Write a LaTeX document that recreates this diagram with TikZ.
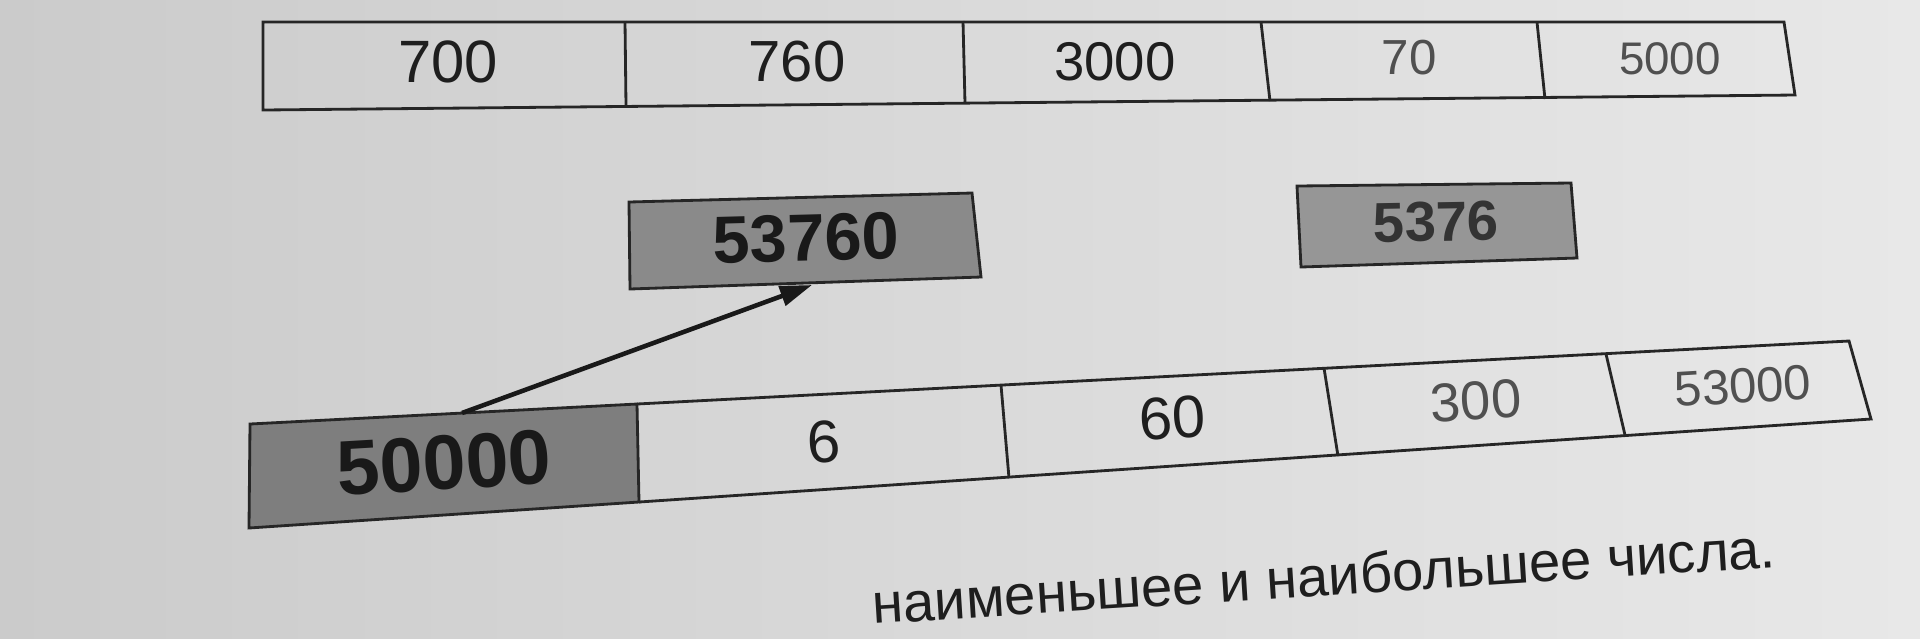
\documentclass[tikz,border=0pt]{standalone}
\usepackage{fontspec}
\setmainfont{Liberation Sans}
\usetikzlibrary{arrows.meta}
\definecolor{paperL}{HTML}{CBCBCB}
\definecolor{paperR}{HTML}{E8E8E8}
\definecolor{boxgray}{HTML}{8A8A8A}
\definecolor{celldark}{HTML}{7E7E7E}
\definecolor{inkdark}{HTML}{1E1E1E}
\definecolor{inklight}{HTML}{505050}
\begin{document}
\begin{tikzpicture}[x=0.01cm,y=-0.01cm,
  cellline/.style={line width=0.8pt,draw=black!85},
  num/.style={inner sep=0pt,text=inkdark,font=\fontsize{#1}{#1}\selectfont},
  boldnum/.style={inner sep=0pt,text=black!90,font=\fontsize{#1}{#1}\selectfont\bfseries}]
\useasboundingbox (0,0) rectangle (1920,638);
\clip (0,0) rectangle (1920,638);
\shade[left color=paperL,right color=paperR] (0,0) rectangle (1920,638);
% top row
\draw[cellline] (263,22)--(1784,22)--(1795,95)--(263,110)--cycle;
\draw[cellline] (625,21)--(626,106);
\draw[cellline] (963,21)--(965,103);
\draw[cellline] (1261,22)--(1270,101);
\draw[cellline] (1537,22)--(1545,99);
\node[num=17pt] (t700) at (448,62) {700};
\node[num=16.5pt] (t760) at (797,62) {760};
\node[num=15.5pt] (t3000) at (1115,62) {3000};
\node[num=14pt,text=inklight] (t70) at (1409,58) {70};
\node[num=13pt,text=inklight] (t5000) at (1670,59) {5000};
% middle boxes
\draw[cellline,fill=boxgray] (629,202)--(972,193)--(981,277)--(630,289)--cycle;
\node[boldnum=19pt,rotate=1.5] (m53760) at (806,238) {53760};
\draw[cellline,fill=boxgray!90!white] (1297,186)--(1571,183)--(1577,258)--(1301,267)--cycle;
\node[boldnum=16pt,rotate=1,text=black!80] (m5376) at (1436,222) {5376};
\coordinate (arrto) at (812,285);
% bottom row
\draw[cellline,fill=celldark] (250,424)--(637,404)--(639,502)--(249,528)--cycle;
\draw[cellline] (637,404)--(1849,341)--(1871,419)--(639,502);
\draw[cellline] (1001,385)--(1009,478);
\draw[cellline] (1324,368)--(1338,456);
\draw[cellline] (1606,354)--(1625,435);
\node[boldnum=22pt,rotate=3.4] (b50000) at (444,463) {50000};
\node[num=17pt,rotate=3.4] (b6) at (824,442) {6};
\node[num=17pt,rotate=3.4] (b60) at (1172,418) {60};
\node[num=15.5pt,rotate=3.4,text=inklight] (b300) at (1476,401) {300};
\node[num=14pt,rotate=3.4,text=inklight] (b53000) at (1743,386) {53000};
\coordinate (arrfrom) at (462,413);
\draw[line width=1.3pt,draw=black!90,-{Triangle[length=0.32cm,width=0.2cm]}] (arrfrom)--(arrto);
% task text
\node[inner sep=0pt,anchor=base west,rotate=3.6,text=inkdark,font=\fontsize{16pt}{16pt}\selectfont] (task) at (873,624) {наименьшее и наибольшее числа.};
\end{tikzpicture}
\end{document}
